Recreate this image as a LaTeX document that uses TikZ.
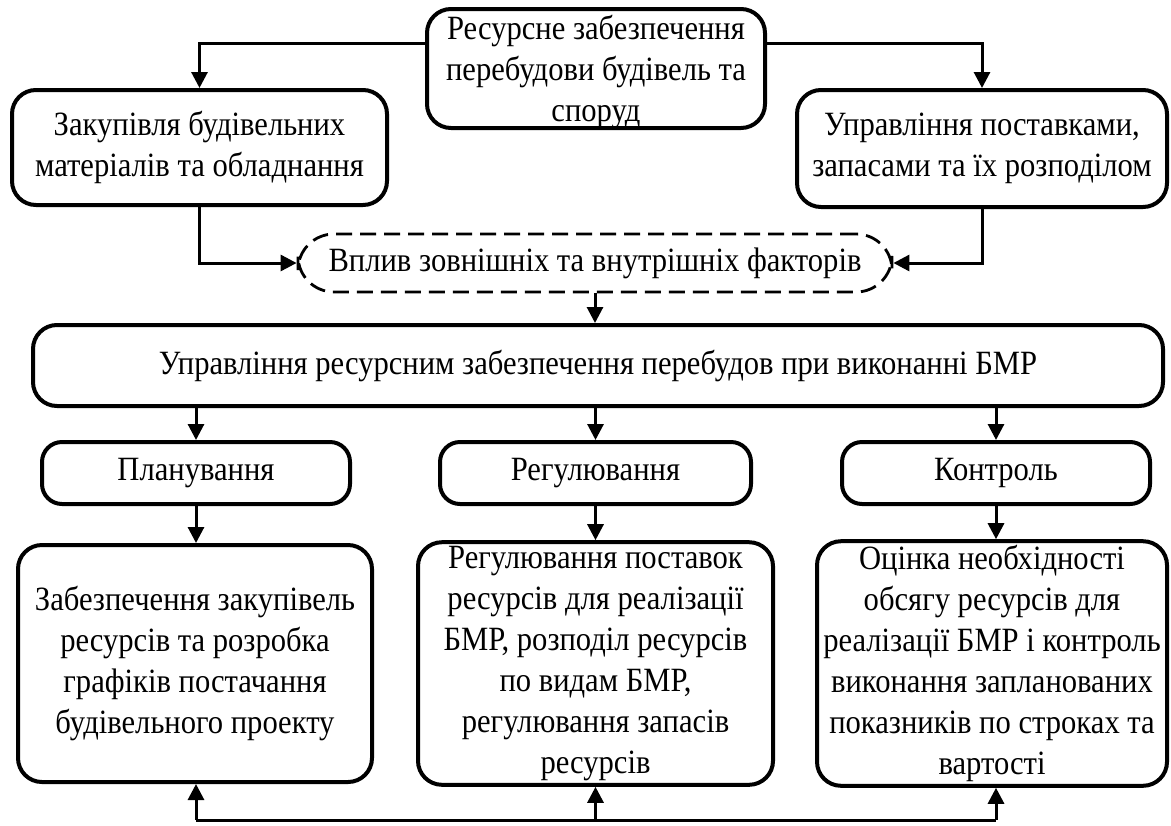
\documentclass[tikz,border=0pt]{standalone}
\usepackage{fontspec}
\setmainfont{Liberation Serif}[FakeStretch=0.9]
\usetikzlibrary{arrows.meta,calc}
\tikzset{
  txt/.style={font=\fontsize{17}{20.5}\selectfont},
  box/.style={draw, line width=2pt, rounded corners=12pt, align=center, inner sep=2pt, txt},
  smallbox/.style={box, rounded corners=10pt},
  dashbox/.style={draw, line width=1.4pt, rounded corners=18pt, dash pattern=on 8pt off 4pt,
    align=center, txt},
  arr/.style={line width=1.5pt, -{Triangle[length=8pt,width=8pt]}},
  ln/.style={line width=1.5pt}
}
\begin{document}
\begin{tikzpicture}[x=0.5pt,y=-0.5pt]
\useasboundingbox (0,0) rectangle (1171,825);
\node[box, minimum width=169pt, minimum height=59.5pt] (top) at (596,68.5)
  {\raisebox{-6.25pt}[0pt][0pt]{\begin{tabular}{@{}c@{}}Ресурсне забезпечення\\перебудови будівель та\\споруд\end{tabular}}};
\node[box, minimum width=187.5pt, minimum height=57.5pt] (left) at (199.5,147.5)
  {Закупівля будівельних\\матеріалів та обладнання};
\node[box, minimum width=185pt, minimum height=58.5pt] (right) at (982,148.5)
  {Управління поставками,\\запасами та їх розподілом};
\node[dashbox, minimum width=297pt, minimum height=29pt] (dash) at (595,263)
  {Вплив зовнішніх та внутрішніх факторів};
\node[box, minimum width=565pt, minimum height=40.5pt] (big) at (598,365.5)
  {Управління ресурсним забезпечення перебудов при виконанні БМР};
\node[smallbox, minimum width=154pt, minimum height=31pt] (plan) at (196,473) {Планування};
\node[smallbox, minimum width=155.5pt, minimum height=31pt] (reg) at (595.5,473) {Регулювання};
\node[smallbox, minimum width=154pt, minimum height=31pt] (ctrl) at (996,473) {Контроль};
\node[box, minimum width=177pt, minimum height=118.5pt] (b1) at (195,663.5)
  {Забезпечення закупівель\\ресурсів та розробка\\графіків постачання\\будівельного проекту};
\node[box, minimum width=177.5pt, minimum height=118.5pt] (b2) at (595.5,663.5)
  {Регулювання поставок\\ресурсів для реалізації\\БМР, розподіл ресурсів\\по видам БМР,\\регулювання запасів\\ресурсів};
\node[box, minimum width=175pt, minimum height=118.5pt] (b3) at (992,663.5)
  {Оцінка необхідності\\обсягу ресурсів для\\реалізації БМР і контроль\\виконання запланованих\\показників по строках та\\вартості};
\coordinate (ty) at (0,43);
\coordinate (fb1) at (196,820);
\coordinate (fb2) at (595.5,820);
\coordinate (fb3) at (996,820);
\draw[arr] (top.west |- ty) -- (left.north |- ty) -- (left.north);
\draw[arr] (top.east |- ty) -- (right.north |- ty) -- (right.north);
\draw[arr] (left.south) -- (left.south |- dash.west) -- (dash.west);
\draw[arr] (right.south) -- (right.south |- dash.east) -- (dash.east);
\draw[arr] (dash.south) -- (dash.south |- big.north);
\draw[arr] (big.south -| plan.north) -- (plan.north);
\draw[arr] (big.south -| reg.north) -- (reg.north);
\draw[arr] (big.south -| ctrl.north) -- (ctrl.north);
\draw[arr] (plan.south) -- (plan.south |- b1.north);
\draw[arr] (reg.south) -- (reg.south |- b2.north);
\draw[arr] (ctrl.south) -- (ctrl.south |- b3.north);
\draw[ln] (fb1) -- (fb3);
\draw[arr] (fb1) -- (fb1 |- b1.south);
\draw[arr] (fb2) -- (fb2 |- b2.south);
\draw[arr] (fb3) -- (fb3 |- b3.south);
\end{tikzpicture}
\end{document}
